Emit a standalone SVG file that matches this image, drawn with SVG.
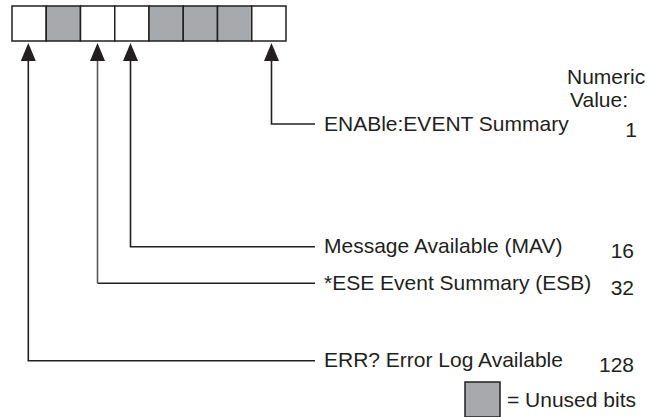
<svg xmlns="http://www.w3.org/2000/svg" width="648" height="417" viewBox="0 0 648 417">
<style>
.cell{stroke:#231f20;stroke-width:1.5;fill:#ffffff}
.unused{fill:#a7a9ac}
.wire{fill:none;stroke:#231f20;stroke-width:1.6}
.grey{stroke:#58595b}
.head{fill:#231f20}
text{font-family:"Liberation Sans",Arial,Helvetica,sans-serif;font-size:21px;fill:#231f20}
.num{text-anchor:end}
</style>
<rect width="648" height="417" fill="#ffffff"/>
<g id="register">
<rect class="cell" x="12" y="6" width="34.25" height="35"/>
<rect class="cell unused" x="46.25" y="6" width="34.25" height="35"/>
<rect class="cell" x="80.5" y="6" width="34.25" height="35"/>
<rect class="cell" x="114.75" y="6" width="34.25" height="35"/>
<rect class="cell unused" x="149" y="6" width="34.25" height="35"/>
<rect class="cell unused" x="183.25" y="6" width="34.25" height="35"/>
<rect class="cell unused" x="217.5" y="6" width="34.25" height="35"/>
<rect class="cell" x="251.75" y="6" width="34.25" height="35"/>
</g>
<g id="connectors">
<path class="wire" d="M315,124 H271.5 V60"/>
<polygon class="head" points="271.5,43 264,61 279,61"/>
<path class="wire" d="M315,246.7 H130.5 V60"/>
<polygon class="head" points="130.5,43 123,61 138,61"/>
<path class="wire" d="M315,283.3 H97.5"/>
<path class="wire grey" d="M97.5,283.3 V60"/>
<polygon class="head" points="97.5,43 90,61 105,61"/>
<path class="wire" d="M315,360.7 H28.3 V60"/>
<polygon class="head" points="28.3,43 20.8,61 35.8,61"/>
</g>
<g id="header">
<text x="567" y="84">Numeric</text>
<text x="570" y="107">Value:</text>
</g>
<g id="bit0">
<text x="324" y="131">ENABle:EVENT Summary</text>
<text class="num" x="637" y="137">1</text>
</g>
<g id="bit4">
<text x="324" y="253">Message Available (MAV)</text>
<text class="num" x="634" y="258">16</text>
</g>
<g id="bit5">
<text x="324" y="290">*ESE Event Summary (ESB)</text>
<text class="num" x="634" y="295">32</text>
</g>
<g id="bit7">
<text x="324" y="367">ERR? Error Log Available</text>
<text class="num" x="634" y="372">128</text>
</g>
<g id="legend">
<rect class="cell unused" x="465" y="382" width="35" height="35"/>
<text x="507" y="407">= Unused bits</text>
</g>
</svg>
